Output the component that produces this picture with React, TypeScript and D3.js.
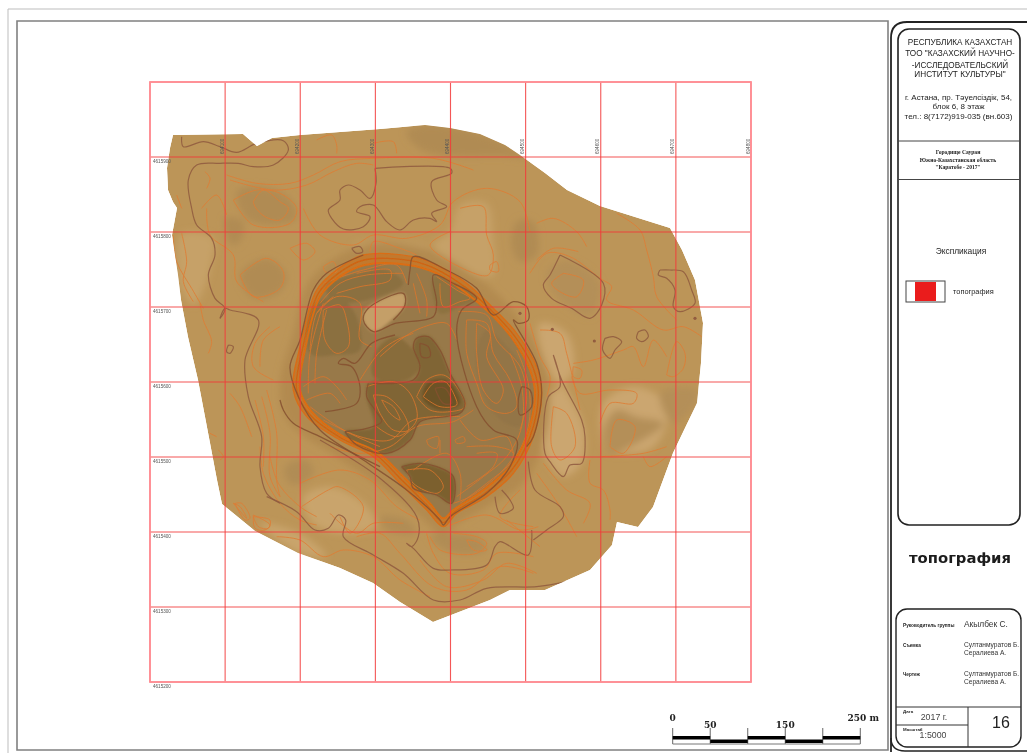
import React from "react";
import * as d3 from "d3";

type P = [number, number];
type Sheet = { x: number; y: number; k: number };

// Survey sheets: each group of traced lines is read in its own sheet units.
const northSheet: Sheet = { x: 140, y: 75, k: 1 / 3 };
const craterSheet: Sheet = { x: 280, y: 240, k: 1 / 3 };
const southSheet: Sheet = { x: 200, y: 440, k: 1 / 3 };
const eastSheet: Sheet = { x: 510, y: 190, k: 1 / 3 };
const westSheet: Sheet = { x: 130, y: 300, k: 1 / 3 };

const gridEastings = [0, 100, 200, 300, 400, 500, 600, 700, 800];
const gridNorthings = [4616000, 4615900, 4615800, 4615700, 4615600, 4615500, 4615400, 4615300, 4615200];
const eastingLabels = ["694100", "694200", "694300", "694400", "694500", "694600", "694700", "694800"];
const northingLabels = ["4615900", "4615800", "4615700", "4615600", "4615500", "4615400", "4615300", "4615200"];

const siteOutline: P[] = [[173,135],[243,134],[257,146],[272,138],[300,135],[340,132],[380,129],[425,125],[450,128],[480,134],[505,145],[520,155],[545,173],[567,190],[600,206],[670,228],[682,250],[695,280],[703,323],[701,363],[697,403],[673,453],[653,507],[638,527],[617,522],[612,545],[590,570],[545,590],[510,590],[490,600],[433,622],[400,602],[373,583],[340,568],[298,553],[255,531],[222,504],[217,480],[210,443],[198,380],[188,337],[181,300],[178,275],[172,235],[177,208],[173,202],[168,190],[167,168],[170,148]];

const darkPatchesNorth: P[][] = [
  [[800,170],[860,150],[1000,170],[1100,210],[1160,250],[1100,245],[900,240],[830,215]],
  [[290,350],[370,335],[450,370],[470,430],[400,450],[320,430]],
  [[255,430],[310,440],[300,500],[275,510]],
  [[300,600],[380,550],[440,600],[420,650],[340,670]],
  [[1130,440],[1180,440],[1190,540],[1140,560],[1115,510]],
];
const lightPatchesNorth: P[][] = [
  [[960,390],[1040,385],[1060,500],[1060,600],[980,590],[880,510],[930,470]],
  [[640,510],[800,500],[870,520],[800,540],[680,530]],
  [[120,480],[220,490],[215,560],[200,620],[160,690],[125,640]],
];
const lightPatchesSouth: P[][] = [
  [[310,170],[390,140],[490,190],[530,260],[430,280],[340,250]],
  [[180,250],[300,280],[380,350],[300,340]],
];
const darkPatchesSouth: P[][] = [
  [[255,80],[320,60],[340,100],[290,135],[265,125]],
  [[690,290],[830,290],[860,330],[760,340]],
  [[540,230],[620,240],[650,280],[560,270]],
];
const eastPatchesLight: P[][] = [
  [[105,620],[150,590],[130,495],[155,570],[215,690],[225,740],[215,820],[160,860],[105,790]],
  [[90,400],[170,430],[190,540],[150,580],[100,500]],
  [[370,590],[460,630],[470,700],[430,770],[370,790],[290,780],[280,640]],
];
const eastPatchesDark: P[][] = [
  [[280,720],[320,660],[380,680],[460,700],[380,760],[300,790]],
  [[110,250],[170,210],[270,280],[260,350],[240,380],[140,320]],
  [[450,610],[560,600],[550,650],[490,700]],
];

const halo: P[] = [[250,15],[420,20],[560,90],[680,190],[790,360],[810,470],[790,610],[730,730],[620,800],[520,860],[490,885],[420,830],[330,760],[170,650],[20,540],[0,430],[40,280],[90,120]];
const rimOuter: P[] = [[250,45],[400,50],[470,75],[560,130],[640,205],[710,280],[770,380],[785,460],[760,590],[700,700],[620,770],[530,820],[490,860],[440,810],[360,730],[280,650],[180,600],[80,530],[40,450],[60,320],[110,150],[170,90]];
const rimMid: P[] = [[252,60],[392,62],[470,88],[560,145],[635,212],[705,290],[760,385],[775,460],[750,590],[695,690],[615,760],[525,815],[490,848],[445,800],[365,720],[285,642],[185,595],[88,522],[50,450],[68,325],[115,160],[175,100]];
const rimInner: P[] = [[255,75],[385,75],[470,100],[560,160],[630,220],[700,300],[750,390],[765,460],[740,590],[690,680],[610,750],[520,810],[490,835],[450,790],[370,710],[290,635],[190,590],[95,515],[60,450],[75,330],[120,170],[180,110]];
const floorTones: { tone: string; ring: P[] }[] = [
  { tone: "#8b7040", ring: [[100,200],[170,170],[225,220],[240,330],[170,345],[90,340]] },
  { tone: "#8b7040", ring: [[140,140],[250,95],[320,90],[370,130],[260,180],[160,185]] },
  { tone: "#8d7240", ring: [[460,110],[590,175],[540,200],[480,220]] },
  { tone: "#937547", ring: [[620,270],[700,340],[750,430],[720,560],[650,530],[600,440],[590,330]] },
  { tone: "#886c3a", ring: [[290,330],[345,290],[400,330],[420,380],[380,420],[280,410]] },
  { tone: "#806534", ring: [[195,575],[280,560],[260,470],[265,430],[400,420],[420,380],[400,320],[415,290],[450,290],[480,330],[510,400],[555,490],[540,520],[420,545],[390,600],[320,640],[230,615]] },
  { tone: "#7c602f", ring: [[365,680],[420,670],[470,680],[520,710],[515,790],[470,765],[400,745],[390,710]] },
  { tone: "#6c5227", ring: [[440,430],[500,420],[540,490],[480,510],[430,480]] },
  { tone: "#c49f67", ring: [[255,210],[370,160],[375,195],[335,240],[280,275],[250,240]] },
];

const brownNorth: P[][] = [
  [[125,185],[130,215],[190,200],[240,215],[290,232],[350,205],[430,197],[445,225],[400,270],[340,275],[295,265],[240,265],[170,270],[145,315],[155,400],[170,450],[215,490],[225,540],[205,600],[225,670],[255,700],[240,730]],
  [[705,280],[930,280],[935,295],[875,320],[890,375],[920,395],[875,415],[890,440],[870,430],[820,435],[780,465],[740,440],[700,390],[660,395],[650,410],[690,425],[670,455],[610,462],[575,430],[565,405],[600,375],[600,345],[625,330],[660,345],[690,370],[708,325],[705,280]],
  [[635,520],[660,515],[668,530],[650,535],[635,520]],
];
const brownWest: P[][] = [
  [[270,55],[285,25],[300,30],[385,60],[345,180],[355,290],[395,410],[390,500],[410,580],[450,610]],
  [[295,135],[310,140],[300,160],[290,155],[295,135]],
];
const brownSouth: P[][] = [
  [[200,170],[290,215],[345,270],[385,265],[415,225],[437,240],[430,290],[520,345],[610,400],[700,480],[780,480],[860,445],[1010,440],[1100,425]],
  [[360,0],[540,115],[650,230],[655,290],[635,320],[620,310],[640,325],[700,385],[750,390],[860,375],[885,320],[900,305],[985,345],[995,270]],
  [[885,170],[900,220],[940,205],[930,180],[905,150]],
];
const brownCrater: P[][] = [
  [[250,45],[140,100],[100,150],[60,300],[30,380],[55,470],[120,570],[250,660],[380,750],[480,840],[490,855],[510,830],[620,760],[690,680],[710,600],[640,570],[590,500],[530,280],[545,210],[590,175],[520,130],[460,105],[470,190],[460,230],[345,250],[280,275],[250,240],[265,205],[370,160],[375,195],[340,240]],
  [[385,135],[390,90],[400,50],[500,90],[590,145],[640,225],[700,185],[740,200],[745,240],[715,250],[700,240],[770,370],[785,460],[760,590],[740,620]],
  [[135,515],[230,490],[240,440],[215,380],[175,370],[190,355],[225,370],[275,310],[345,285]],
  [[195,575],[260,565],[305,545],[285,510],[260,470],[265,430]],
  [[195,575],[230,615],[320,640],[390,600],[420,545],[540,520],[555,490],[510,400],[480,330],[445,290],[410,295],[400,320],[420,380],[400,420],[280,430]],
  [[365,680],[420,670],[470,680],[520,710],[515,790],[470,765],[400,745],[390,710],[365,680]],
  [[725,440],[750,450],[755,500],[720,525],[715,480],[725,440]],
  [[465,445],[495,445],[515,490],[490,490],[465,445]],
  [[420,310],[445,320],[450,350],[425,350],[420,310]],
  [[0,480],[10,510],[40,550],[120,590],[180,620],[300,680]],
];
const brownEast: P[][] = [
  [[150,195],[280,280],[275,345],[240,385],[185,355],[125,325],[100,285],[120,255],[150,195]],
  [[130,495],[155,570],[215,690],[225,740],[215,820],[180,825],[160,860],[120,815],[105,790],[115,620],[150,590],[130,495]],
  [[285,445],[310,440],[335,455],[315,480],[300,505],[278,480],[285,445]],
  [[385,425],[405,420],[415,440],[395,455],[380,445],[385,425]],
  [[450,240],[480,240],[520,245],[545,300],[555,340],[510,365],[490,350],[495,300],[470,265],[445,255],[450,240]],
  [[55,815],[75,900],[150,950],[160,980],[110,1020],[70,1050]],
];
const brownDots: P[] = [[127,418],[253,453],[555,385],[30,370]];

const orangeNorth: P[][] = [
  [[260,300],[350,325],[450,325],[520,300],[600,260],[700,250],[880,250],[1000,285]],
  [[270,315],[400,345],[500,330],[580,290],[650,265],[700,270]],
  [[195,290],[210,310],[200,340]],
  [[530,195],[575,180],[590,210],[590,235]],
  [[700,205],[760,200],[770,235]],
  [[280,375],[350,345],[420,355],[470,400],[450,445],[340,450],[280,375]],
  [[340,380],[370,345],[420,380],[445,400],[420,435],[375,425],[345,395],[340,380]],
  [[490,400],[540,480],[640,510],[700,480],[800,490],[900,450],[940,380],[1040,340],[1140,380],[1170,470]],
  [[960,400],[1030,395],[1040,480],[1060,540],[1045,600],[990,590],[870,510],[930,470]],
  [[450,520],[500,505],[525,530],[490,555],[450,520]],
  [[300,600],[380,550],[430,590],[420,640],[340,665],[300,600]],
  [[200,400],[210,480],[280,540],[290,620],[370,680]],
  [[185,400],[230,360],[260,420]],
  [[110,360],[125,400]],
  [[125,475],[140,560],[130,620],[160,680]],
  [[100,480],[110,560],[155,640],[190,700]],
  [[550,575],[580,560],[590,590],[555,590],[550,575]],
  [[690,530],[700,500],[780,520],[830,540]],
  [[1050,570],[1070,560],[1075,590],[1050,585],[1050,570]],
];
const orangeWest: P[][] = [
  [[235,160],[245,125],[220,60],[210,10]],
  [[300,280],[330,320],[365,410]],
  [[240,400],[260,410]],
  [[265,450],[280,470],[270,480]],
  [[430,240],[370,200],[375,130],[420,80]],
  [[390,200],[400,120],[450,80]],
  [[410,270],[440,400],[440,540],[450,590]],
  [[395,290],[420,400],[420,530],[450,590]],
  [[375,300],[400,410],[400,500]],
  [[310,610],[350,655],[330,620],[310,610]],
  [[370,650],[420,660],[415,685],[385,680],[370,650]],
];
const orangeSouth: P[][] = [
  [[180,20],[190,100],[240,190],[300,240],[350,255]],
  [[210,50],[235,130],[300,200],[350,230]],
  [[105,190],[125,190],[150,235],[135,240],[105,190]],
  [[160,225],[210,255],[195,270],[165,265],[160,225]],
  [[230,290],[300,300],[370,350],[430,330],[520,350],[600,420],[690,470]],
  [[300,130],[420,90],[510,120],[590,200],[660,240]],
  [[305,200],[385,150],[415,140],[490,200],[450,280],[420,230]],
  [[390,220],[470,280],[520,250],[610,250]],
  [[470,290],[540,280],[600,340],[700,440],[800,450],[900,380],[1000,400]],
  [[680,280],[700,340],[750,400],[850,390],[890,340],[1000,350]],
  [[690,290],[720,330],[830,340],[860,310],[830,290],[760,280]],
  [[800,300],[830,305],[860,330],[820,330],[800,300]],
  [[740,260],[860,225],[960,270],[1015,260]],
  [[660,360],[740,440],[850,420],[920,370],[1010,400]],
  [[960,150],[900,230],[1000,260]],
  [[920,240],[1020,320]],
];
const orangeCrater: P[][] = [
  [[130,210],[180,195],[200,240],[205,320],[170,340],[135,300],[130,210]],
  [[110,220],[170,170],[240,190],[240,300],[275,320]],
  [[90,330],[110,220],[160,170]],
  [[410,470],[440,420],[490,405],[530,440],[555,500],[510,515],[450,510],[410,470]],
  [[430,470],[460,430],[495,425],[525,470],[530,495],[480,500],[430,470]],
  [[280,465],[320,470],[370,520],[385,570],[340,570],[300,520],[280,465]],
  [[305,480],[340,500],[360,540],[330,520],[305,480]],
  [[260,440],[340,425],[390,460],[410,540],[350,590],[290,560]],
  [[380,690],[450,690],[490,740],[470,760],[400,730],[380,690]],
  [[440,600],[475,590],[470,625],[445,615],[440,600]],
  [[525,600],[550,590],[555,605],[530,610],[525,600]],
  [[535,215],[620,225],[650,300],[720,380],[740,480],[720,570]],
  [[560,240],[620,250],[640,340],[690,420],[710,500],[680,520],[620,500],[590,430],[560,340],[560,240]],
  [[590,250],[630,280],[620,350],[670,450],[650,490],[610,450],[590,340],[590,250]],
  [[130,130],[250,90],[350,75],[380,130]],
  [[230,100],[330,90],[330,120],[240,140],[170,160]],
  [[470,110],[530,150],[570,175],[540,185],[490,200],[480,130]],
  [[410,100],[440,180],[440,230]],
  [[400,130],[420,220]],
  [[560,620],[650,620],[700,640],[660,700],[570,770],[520,790]],
  [[590,640],[650,640],[640,680],[560,740]],
  [[70,440],[130,410],[170,440],[200,480]],
  [[80,480],[150,460],[180,490]],
  [[300,350],[360,300],[420,265],[500,250],[530,300]],
  [[240,420],[300,335],[350,300],[400,280]],
  [[150,620],[240,640],[330,620],[410,560],[520,545],[580,510]],
  [[130,540],[240,590],[330,600],[400,540],[540,530]],
  [[540,540],[600,600],[680,590],[700,640]],
  [[480,600],[480,640]],
  [[400,690],[500,640],[540,700],[540,780]],
  [[710,330],[745,430],[745,560],[700,660],[620,730],[540,790]],
  [[690,340],[725,440],[725,560],[680,650],[610,710],[530,770]],
  [[120,190],[180,130],[260,105],[370,100]],
  [[85,460],[90,340],[130,190]],
  [[105,430],[110,340],[140,210]],
  [[90,500],[190,570],[300,620]],
];
const orangeEast: P[][] = [
  [[320,70],[390,120],[410,180],[430,260],[440,320],[500,390]],
  [[80,100],[130,85],[200,125],[230,170]],
  [[80,210],[130,175],[205,185]],
  [[60,250],[110,190],[180,200],[270,265],[305,290],[290,330],[370,360],[460,420],[520,410],[575,440]],
  [[160,250],[220,270],[200,320],[150,305],[125,280],[160,250]],
  [[90,420],[150,430],[170,490],[210,660]],
  [[60,400],[90,500],[120,560],[110,620]],
  [[190,520],[250,510],[340,480],[370,470],[400,530],[430,450],[470,500]],
  [[470,555],[500,455],[525,490],[520,535],[490,560],[470,555]],
  [[185,560],[210,610],[300,600],[380,610],[370,640],[300,640],[270,700]],
  [[300,770],[320,690],[375,710],[340,790],[300,770]],
  [[130,650],[170,670],[195,770],[150,810],[125,770],[130,650]],
  [[100,820],[170,900],[240,940],[220,1000]],
  [[80,850],[150,950],[200,1040]],
  [[240,810],[240,880],[280,900],[300,960],[300,990]],
  [[400,800],[420,830],[470,800]],
  [[270,800],[400,790],[470,770]],
  [[190,530],[215,540],[210,565],[190,560],[190,530]],
];

const scaleDistances = [0, 50, 100, 150, 200, 250];
const scaleLabelled = [
  { label: "0", metres: 0, row: 0 },
  { label: "50", metres: 50, row: 1 },
  { label: "150", metres: 150, row: 1 },
];

const headerLines = ["РЕСПУБЛИКА КАЗАХСТАН", "ТОО \"КАЗАХСКИЙ НАУЧНО-", "-ИССЛЕДОВАТЕЛЬСКИЙ", "ИНСТИТУТ КУЛЬТУРЫ\""];
const addressLines = ["г. Астана, пр. Тәуелсіздік, 54,", "блок 6, 8 этаж", "тел.: 8(7172)919-035 (вн.603)"];
const siteLines = ["Городище Сауран", "Южно-Казахстанская область", "\"Каратобе - 2017\""];

const xGrid = d3.scaleLinear().domain([0, 800]).range([150, 751]);
const yGrid = d3.scaleLinear().domain([4615200, 4616000]).range([682, 82]);
const xBar = d3.scaleLinear().domain([0, 250]).range([672.7, 860.3]);

const pathOn = (s: Sheet, pts: P[], closed = false) => {
  const x = d3.scaleLinear().domain([0, 1]).range([s.x, s.x + s.k]);
  const y = d3.scaleLinear().domain([0, 1]).range([s.y, s.y + s.k]);
  return (
    d3
      .line<P>()
      .x((d) => x(d[0]))
      .y((d) => y(d[1]))
      .curve(closed ? d3.curveCatmullRomClosed.alpha(0.5) : d3.curveCatmullRom.alpha(0.5))(pts) ?? ""
  );
};
const outlinePath = () =>
  d3
    .line<P>()
    .x((d) => d[0])
    .y((d) => d[1])
    .curve(d3.curveLinear)(siteOutline) + "Z";

const Sans = "'Liberation Sans', Arial, sans-serif";
const Serif = "'Liberation Serif', serif";

export default function App() {
  const Fills = (s: Sheet, list: P[][], fill: string, key: string) =>
    list.map((r, i) => <path key={key + i} d={pathOn(s, r, true)} fill={fill} />);
  const Lines = (s: Sheet, list: P[][], stroke: string, w: number, key: string, o = 0.85) =>
    list.map((r, i) => <path key={key + i} d={pathOn(s, r)} fill="none" stroke={stroke} strokeWidth={w} strokeOpacity={o} />);

  return (
    <svg
      width={1027}
      height={753}
      viewBox="0 0 1027 753"
      style={{ position: "absolute", left: 0, top: 0, background: "#fff" }}
    >
      <defs>
        <clipPath id="site">
          <path d={outlinePath()} />
        </clipPath>
        <filter id="wash" x="-5%" y="-5%" width="110%" height="110%">
          <feGaussianBlur stdDeviation="3.5" />
        </filter>
        <filter id="tone" x="-5%" y="-5%" width="110%" height="110%">
          <feGaussianBlur stdDeviation="1.4" />
        </filter>
        <filter id="soft" x="-2%" y="-2%" width="104%" height="104%">
          <feGaussianBlur stdDeviation="0.45" />
        </filter>
        <filter id="txt" x="-5%" y="-5%" width="110%" height="110%">
          <feGaussianBlur stdDeviation="0.3" />
        </filter>
      </defs>

      {/* sheet frames */}
      <path d="M1027 9H8V753" fill="none" stroke="#bdbdbd" strokeWidth={1} />
      <path d="M17 750V21H888V750Z" fill="#fff" stroke="#808080" strokeWidth={1.6} />

      {/* relief */}
      <g clipPath="url(#site)">
        <path d={outlinePath()} fill="#bc9558" />
        <g filter="url(#wash)">
          {Fills(northSheet, lightPatchesNorth, "#c6a168", "ln")}
          {Fills(southSheet, lightPatchesSouth, "#c9a46c", "ls")}
          {Fills(eastSheet, eastPatchesLight, "#cba670", "le")}
          {Fills(northSheet, darkPatchesNorth, "#b08b53", "dn")}
          {Fills(southSheet, darkPatchesSouth, "#b08c55", "ds")}
          {Fills(eastSheet, eastPatchesDark, "#b48f58", "de")}
          <path d={pathOn(craterSheet, halo, true)} fill="#b28a4f" />
        </g>
        <g filter="url(#soft)">
          <path d={pathOn(craterSheet, rimOuter, true)} fill="#c2792f" />
          <path d={pathOn(craterSheet, rimInner, true)} fill="#98794a" />
        </g>
        <g filter="url(#tone)">
          {floorTones.map((t, i) => (
            <path key={"t" + i} d={pathOn(craterSheet, t.ring, true)} fill={t.tone} />
          ))}
        </g>
        <g filter="url(#soft)">
          {Lines(northSheet, orangeNorth, "#de7c35", 1, "on")}
          {Lines(westSheet, orangeWest, "#de7c35", 1, "ow")}
          {Lines(southSheet, orangeSouth, "#de7c35", 1, "os")}
          {Lines(eastSheet, orangeEast, "#de7c35", 1, "oe")}
          {Lines(craterSheet, orangeCrater, "#d9762c", 1, "oc")}
          <path d={pathOn(craterSheet, rimOuter, true)} fill="none" stroke="#d96d18" strokeWidth={1.4} />
          <path d={pathOn(craterSheet, rimMid, true)} fill="none" stroke="#cf6412" strokeWidth={1.4} />
          <path d={pathOn(craterSheet, rimInner, true)} fill="none" stroke="#db6d12" strokeWidth={2} />
          {Lines(northSheet, brownNorth, "#8f5a3e", 1.2, "bn")}
          {Lines(westSheet, brownWest, "#8f5a3e", 1.2, "bw")}
          {Lines(southSheet, brownSouth, "#8f5a3e", 1.2, "bs")}
          {Lines(eastSheet, brownEast, "#8f5a3e", 1.2, "be")}
          {Lines(craterSheet, brownCrater, "#85502f", 1.3, "bc")}
          {brownDots.map((d, i) => (
            <path key={"d" + i} d={pathOn(eastSheet, [d, d])} stroke="#925c3f" strokeWidth={3.2} strokeLinecap="round" fill="none" />
          ))}
        </g>
      </g>

      {/* coordinate grid */}
      <g filter="url(#txt)">
        {gridEastings.map((e) => (
          <line key={e} x1={xGrid(e)} x2={xGrid(e)} y1={82} y2={682} stroke="#f23a3a" strokeOpacity={0.85} strokeWidth={1.1} />
        ))}
        {gridNorthings.map((n) => (
          <line key={n} y1={yGrid(n)} y2={yGrid(n)} x1={150} x2={751} stroke="#f23a3a" strokeOpacity={0.85} strokeWidth={1.1} />
        ))}
        <rect x={150} y={82} width={601} height={600} fill="none" stroke="#ff8f96" strokeWidth={1.8} />
        {northingLabels.map((t, i) => (
          <text key={t} x={153} y={yGrid(gridNorthings[i + 1]) + 6} fontFamily={Sans} fontSize={4.6} fill="#555">
            {t}
          </text>
        ))}
        {eastingLabels.map((t, i) => (
          <text
            key={t}
            transform={`translate(${xGrid(gridEastings[i + 1]) - 1.5},154) rotate(-90)`}
            fontFamily={Sans}
            fontSize={4.6}
            fill="#555"
          >
            {t}
          </text>
        ))}
      </g>

      {/* scale bar */}
      <g filter="url(#txt)">
        {scaleDistances.map((d) => (
          <line key={d} x1={xBar(d)} x2={xBar(d)} y1={728} y2={744} stroke="#666" strokeWidth={1} />
        ))}
        {scaleDistances.slice(0, -1).map((d, i) => (
          <rect
            key={d}
            x={xBar(d)}
            width={xBar(scaleDistances[i + 1]) - xBar(d)}
            y={i % 2 === 0 ? 736 : 739.5}
            height={3.5}
            fill="#000"
          />
        ))}
        <line x1={xBar(0)} x2={xBar(250)} y1={744} y2={744} stroke="#777" strokeWidth={1} />
        {scaleLabelled.map((s) => (
          <text
            key={s.label}
            x={xBar(s.metres)}
            y={s.row ? 727.5 : 720.5}
            textAnchor="middle"
            fontFamily="'DejaVu Serif', serif"
            fontWeight="bold"
            fontSize={9}
            fill="#222"
          >
            {s.label}
          </text>
        ))}
        <text x={847.5} y={721} fontFamily="'DejaVu Serif', serif" fontWeight="bold" fontSize={9} fill="#222">
          250 m
        </text>
      </g>

      {/* title block */}
      <g filter="url(#txt)">
        <path d="M891 752V38Q891 22 907 22H1027" fill="none" stroke="#222" strokeWidth={1.8} />
        <path d="M891 738Q891 751 905 751H1027" fill="none" stroke="#222" strokeWidth={1.4} />
        <rect x={898} y={29} width={122} height={496} rx={11} fill="#fff" stroke="#222" strokeWidth={1.6} />
        <line x1={898} x2={1020} y1={141} y2={141} stroke="#444" strokeWidth={1} />
        <line x1={898} x2={1020} y1={179.5} y2={179.5} stroke="#444" strokeWidth={1} />
        {headerLines.map((t, i) => (
          <text key={t} x={960} y={[45, 56, 68, 77][i]} textAnchor="middle" fontFamily={Sans} fontSize={8.2} fill="#222">
            {t}
          </text>
        ))}
        {addressLines.map((t, i) => (
          <text key={t} x={958.5} y={[100, 109, 119][i]} textAnchor="middle" fontFamily={Sans} fontSize={8} fill="#222">
            {t}
          </text>
        ))}
        {siteLines.map((t, i) => (
          <text key={t} x={958} y={[154, 161.5, 169][i]} textAnchor="middle" fontFamily={Serif} fontWeight="bold" fontSize={5.6} fill="#222">
            {t}
          </text>
        ))}
        <text x={961} y={254} textAnchor="middle" fontFamily={Sans} fontSize={8.4} fill="#222">
          Экспликация
        </text>
        <rect x={906} y={281} width={39} height={21} fill="#fff" stroke="#444" strokeWidth={1} />
        <rect x={915} y={282} width={21} height={19} fill="#ea1c1c" />
        <text x={953} y={294} fontFamily={Sans} fontSize={7.4} fill="#222">
          топография
        </text>

        <text x={960} y={563} textAnchor="middle" fontFamily="'DejaVu Sans', sans-serif" fontWeight="bold" fontSize={14.8} fill="#1a1a1a">
          топография
        </text>

        <rect x={896} y={609} width={125} height={138} rx={11} fill="#fff" stroke="#222" strokeWidth={1.4} />
        <line x1={896} x2={1021} y1={707} y2={707} stroke="#333" strokeWidth={1} />
        <line x1={896} x2={968} y1={725} y2={725} stroke="#333" strokeWidth={1} />
        <line x1={968} x2={968} y1={707} y2={747} stroke="#333" strokeWidth={1} />
        <text x={903} y={626.5} fontFamily={Sans} fontWeight="bold" fontSize={4.7} fill="#222">
          Руководитель группы
        </text>
        <text x={964} y={627} fontFamily={Sans} fontSize={8.4} fill="#333">
          Акылбек С.
        </text>
        <text x={903} y={646.5} fontFamily={Sans} fontWeight="bold" fontSize={4.7} fill="#222">
          Съемка
        </text>
        <text x={964} y={646.5} fontFamily={Sans} fontSize={6.6} fill="#333">
          Султанмуратов Б.
        </text>
        <text x={964} y={655} fontFamily={Sans} fontSize={6.6} fill="#333">
          Сералиева А.
        </text>
        <text x={903} y={675.5} fontFamily={Sans} fontWeight="bold" fontSize={4.7} fill="#222">
          Чертеж
        </text>
        <text x={964} y={676} fontFamily={Sans} fontSize={6.6} fill="#333">
          Султанмуратов  Б.
        </text>
        <text x={964} y={684} fontFamily={Sans} fontSize={6.6} fill="#333">
          Сералиева А.
        </text>
        <text x={903} y={713} fontFamily={Sans} fontWeight="bold" fontSize={4.4} fill="#222">
          Дата
        </text>
        <text x={934} y={720} textAnchor="middle" fontFamily={Sans} fontSize={8.8} fill="#444">
          2017 г.
        </text>
        <text x={1001} y={728} textAnchor="middle" fontFamily={Sans} fontSize={16} fill="#222">
          16
        </text>
        <text x={903} y={730.5} fontFamily={Sans} fontWeight="bold" fontSize={4.4} fill="#222">
          Масштаб
        </text>
        <text x={933} y={737.5} textAnchor="middle" fontFamily={Sans} fontSize={8.8} fill="#444">
          1:5000
        </text>
      </g>
    </svg>
  );
}
